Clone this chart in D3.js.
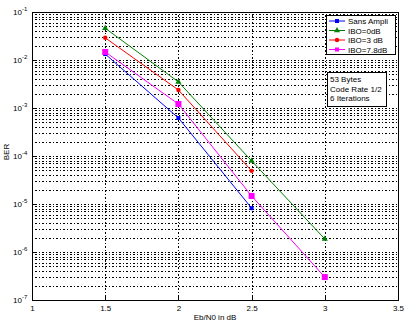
<!DOCTYPE html>
<html>
<head>
<meta charset="utf-8">
<script src="https://cdn.jsdelivr.net/npm/d3@7"></script>
<style>
  html, body { margin: 0; padding: 0; background: #fff; }
  svg { display: block; font-family: "Liberation Sans", Arial, sans-serif; }
</style>
</head>
<body>
<svg id="chart" width="409" height="324"></svg>
<script>
// Eb/N0 values (dB) and measured BER for each curve
const ebn0Sans = [1.5, 2, 2.5];
const berSans  = [1.33e-2, 6.2e-4, 8.2e-6];

const ebn0Ibo0 = [1.5, 2, 2.5, 3];
const berIbo0  = [4.6e-2, 3.5e-3, 7.9e-5, 1.87e-6];

const ebn0Ibo3 = [1.5, 2, 2.5];
const berIbo3  = [2.9e-2, 2.37e-3, 4.9e-5];

const ebn0Ibo78 = [1.5, 2, 2.5, 3];
const berIbo78  = [1.47e-2, 1.21e-3, 1.47e-5, 3.0e-7];

const legendLabels = ["Sans Ampli", "IBO=0dB", "IBO=3 dB", "IBO=7.8dB"];
const xTicks = [1, 1.5, 2, 2.5, 3, 3.5];
const yExponents = [-1, -2, -3, -4, -5, -6, -7];
const noteLines = ["53 Bytes", "Code Rate 1/2", "6 Iterations"];

const series = [
  { name: legendLabels[0], x: ebn0Sans, y: berSans, color: "#0000ff", marker: "smallsquare" },
  { name: legendLabels[1], x: ebn0Ibo0, y: berIbo0, color: "#008000", marker: "triangle" },
  { name: legendLabels[2], x: ebn0Ibo3, y: berIbo3, color: "#ff0000", marker: "circle" },
  { name: legendLabels[3], x: ebn0Ibo78, y: berIbo78, color: "#ff00ff", marker: "square" }
];

const svg = d3.select("#chart");
const L = 32, R = 398, T = 12, B = 300;

const x = d3.scaleLinear().domain([1, 3.5]).range([L, R]);
const y = d3.scaleLog().domain([1e-7, 1e-1]).range([B, T]);

const grid = svg.append("g").attr("stroke", "#000").attr("stroke-width", 1)
  .attr("stroke-dasharray", "1,2,2,2").attr("shape-rendering", "crispEdges");

// horizontal grid: decades plus minor lines 2..9
const yGrid = [];
for (let e = -7; e < -1; e++) {
  for (let m = 1; m <= 9; m++) yGrid.push(m * Math.pow(10, e));
}
yGrid.filter(v => v > 1e-7 && v < 1e-1).forEach(v => {
  const yy = Math.round(y(v)) + 0.5;
  grid.append("line").attr("x1", L).attr("x2", R).attr("y1", yy).attr("y2", yy);
});
// vertical grid
xTicks.filter(v => v > 1 && v < 3.5).forEach(v => {
  const xx = Math.round(x(v)) + 0.5;
  grid.append("line").attr("x1", xx).attr("x2", xx).attr("y1", T).attr("y2", B);
});

// plot frame
svg.append("rect").attr("x", L + 0.5).attr("y", T + 0.5)
  .attr("width", R - L).attr("height", B - T)
  .attr("fill", "none").attr("stroke", "#000").attr("stroke-width", 1)
  .attr("shape-rendering", "crispEdges");

// x axis ticks and labels
const xAxis = d3.axisBottom(x).tickValues(xTicks).tickSize(-4)
  .tickFormat(d3.format("")).tickPadding(5);
const gx = svg.append("g").attr("transform", `translate(0,${B + 0.5})`).call(xAxis);
gx.select(".domain").remove();
gx.selectAll("text").attr("font-size", 8).attr("font-family", "Liberation Sans, Arial, sans-serif");
gx.selectAll("line").attr("shape-rendering", "crispEdges");

// y axis labels: 10 with superscript exponent
const gy = svg.append("g");
yExponents.forEach(e => {
  const yy = y(Math.pow(10, e));
  gy.append("text").attr("x", 22).attr("y", yy + 3)
    .attr("text-anchor", "end").attr("font-size", 8).text("10");
  gy.append("text").attr("x", 22).attr("y", yy - 1).attr("font-size", 6).text("-" + (-e));
  gy.append("line").attr("x1", L).attr("x2", L + 4).attr("y1", Math.round(yy) + 0.5)
    .attr("y2", Math.round(yy) + 0.5).attr("stroke", "#000").attr("shape-rendering", "crispEdges");
});

// axis titles
svg.append("text").attr("x", (L + R) / 2).attr("y", 320).attr("text-anchor", "middle")
  .attr("font-size", 8).text("Eb/N0 in dB");
svg.append("text").attr("transform", `translate(9,152) rotate(-90)`)
  .attr("text-anchor", "middle").attr("font-size", 8).text("BER");

// curves
const line = d3.line().x(d => x(d[0])).y(d => y(d[1]));

function drawMarker(g, type, cx, cy, color) {
  if (type === "smallsquare") {
    g.append("rect").attr("x", cx - 2).attr("y", cy - 2).attr("width", 4).attr("height", 4).attr("fill", color);
  } else if (type === "square") {
    g.append("rect").attr("x", cx - 3).attr("y", cy - 3).attr("width", 6).attr("height", 6).attr("fill", color);
  } else if (type === "triangle") {
    g.append("path").attr("d", d3.symbol(d3.symbolTriangle, 16)()).attr("transform", `translate(${cx},${cy})`).attr("fill", color);
  } else {
    g.append("circle").attr("cx", cx).attr("cy", cy).attr("r", 2.2).attr("fill", color);
  }
}

const curves = svg.append("g");
series.forEach(s => {
  const pts = s.x.map((v, i) => [v, s.y[i]]);
  curves.append("path").attr("d", line(pts)).attr("fill", "none")
    .attr("stroke", s.color).attr("stroke-width", 1);
  pts.forEach(p => drawMarker(curves, s.marker, x(p[0]), y(p[1]), s.color));
});

// legend
const lg = svg.append("g");
lg.append("rect").attr("x", 326.5).attr("y", 15.5).attr("width", 69).attr("height", 39)
  .attr("fill", "#fff").attr("stroke", "#000").attr("shape-rendering", "crispEdges");
series.forEach((s, i) => {
  const yy = 21 + i * 9.5;
  lg.append("line").attr("x1", 329).attr("x2", 345).attr("y1", yy).attr("y2", yy)
    .attr("stroke", s.color).attr("stroke-width", 1);
  drawMarker(lg, s.marker === "square" ? "smallsquare" : s.marker, 337, yy, s.color);
  lg.append("text").attr("x", 348).attr("y", yy + 3).attr("font-size", 8).text(s.name);
});

// annotation box
const nb = svg.append("g");
nb.append("rect").attr("x", 327.5).attr("y", 72.5).attr("width", 59).attr("height", 34)
  .attr("fill", "#fff").attr("stroke", "#000").attr("shape-rendering", "crispEdges");
noteLines.forEach((t, i) => {
  nb.append("text").attr("x", 330).attr("y", 82 + i * 9.5).attr("font-size", 8).text(t);
});
</script>
</body>
</html>
